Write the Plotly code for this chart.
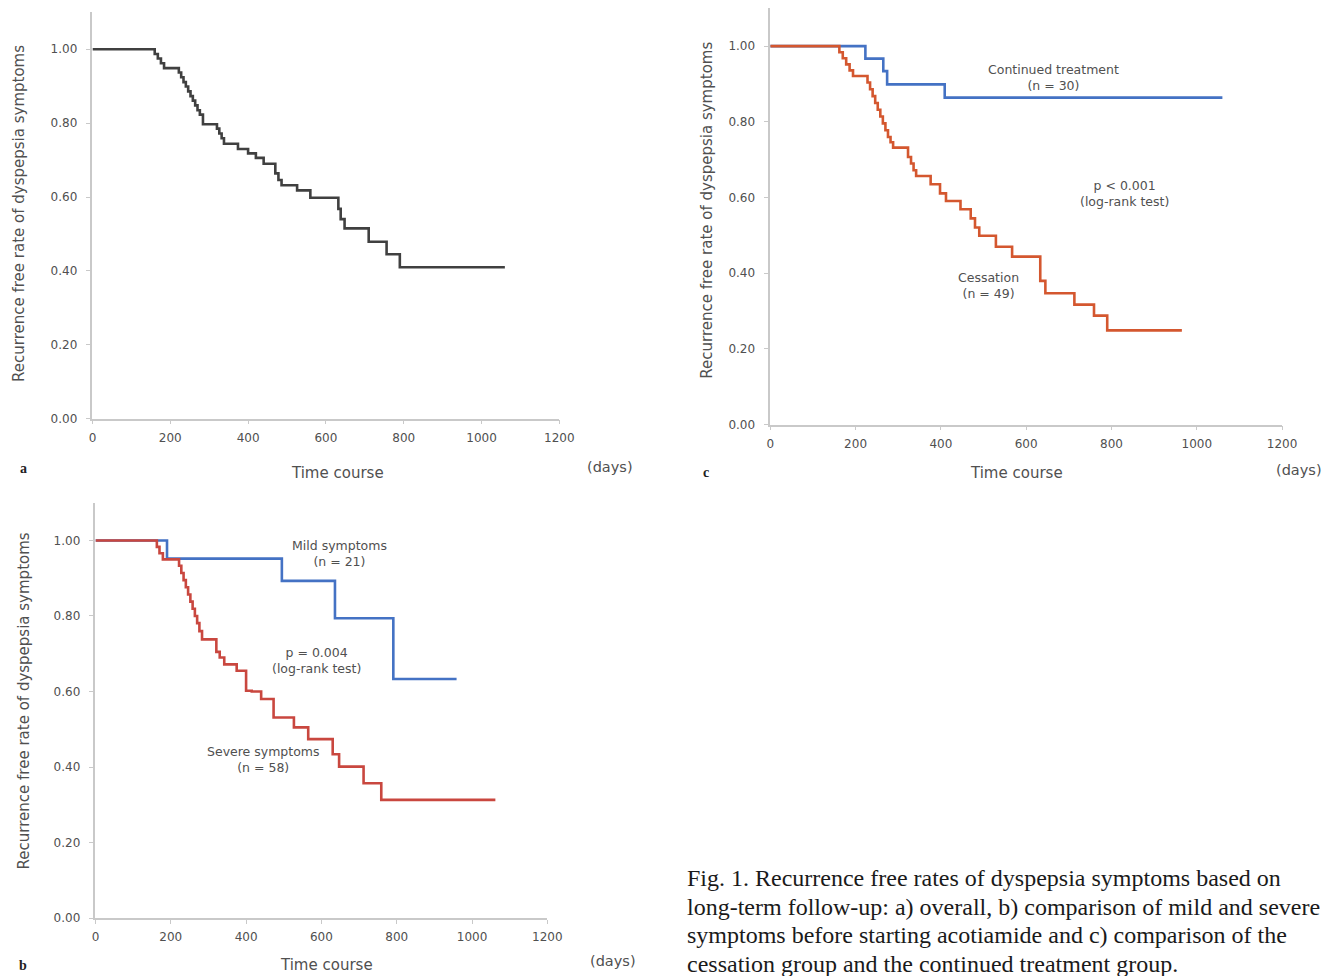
import plotly.graph_objects as go

# ---------------- data ----------------
# Panel a: overall
days_a = [0, 160, 168, 176, 184, 222, 228, 234, 240, 246, 252, 258, 264, 270, 276, 284,
          320, 326, 332, 338, 374, 400, 420, 440, 470, 478, 486, 526, 560, 632, 638, 648,
          710, 756, 790, 1060]
surv_a = [1.000, 0.987, 0.975, 0.962, 0.949, 0.937, 0.924, 0.911, 0.899, 0.886, 0.873, 0.861,
          0.848, 0.835, 0.823, 0.797, 0.785, 0.772, 0.759, 0.744, 0.730, 0.718, 0.706, 0.690,
          0.664, 0.646, 0.632, 0.618, 0.598, 0.568, 0.540, 0.515, 0.479, 0.445, 0.410, 0.410]

# Panel b: mild vs severe symptoms
days_mild = [0, 190, 495, 636, 791, 959]
surv_mild = [1.000, 0.952, 0.893, 0.794, 0.633, 0.633]

days_severe = [0, 163, 170, 179, 222, 228, 234, 240, 246, 252, 258, 264, 270, 276, 283,
               321, 330, 342, 375, 400, 415, 440, 473, 527, 565, 630, 647, 712, 759, 1062]
surv_severe = [1.000, 0.983, 0.966, 0.950, 0.933, 0.914, 0.895, 0.876, 0.857, 0.838, 0.819,
               0.800, 0.781, 0.760, 0.738, 0.705, 0.690, 0.672, 0.655, 0.602, 0.600, 0.580,
               0.531, 0.505, 0.474, 0.434, 0.401, 0.357, 0.313, 0.313]

# Panel c: cessation vs continued treatment
days_cont = [0, 223, 265, 274, 409, 1060]
surv_cont = [1.000, 0.967, 0.934, 0.899, 0.864, 0.864]

days_cess = [0, 162, 170, 178, 186, 194, 228, 234, 240, 246, 252, 258, 264, 270, 276, 282, 288,
             323, 330, 336, 342, 376, 398, 412, 446, 470, 480, 490, 529, 567, 633, 645,
             713, 759, 790, 965]
surv_cess = [1.000, 0.984, 0.968, 0.952, 0.936, 0.921, 0.904, 0.886, 0.868, 0.850, 0.832,
             0.814, 0.796, 0.778, 0.760, 0.746, 0.732, 0.707, 0.690, 0.672, 0.657, 0.635,
             0.611, 0.591, 0.569, 0.545, 0.521, 0.499, 0.470, 0.444, 0.380, 0.347, 0.317,
             0.288, 0.249, 0.249]

x_ticks = [0, 200, 400, 600, 800, 1000, 1200]
y_ticks = [0.0, 0.2, 0.4, 0.6, 0.8, 1.0]
y_title = "Recurrence free rate of dyspepsia symptoms"
x_title = "Time course"

caption_lines = [
    "Fig. 1. Recurrence free rates of dyspepsia symptoms based on",
    "long-term follow-up: a) overall, b) comparison of mild and severe",
    "symptoms before starting acotiamide and c) comparison of the",
    "cessation group and the continued treatment group.",
]

# ---------------- figure ----------------
W, H = 1328, 976
GREY = "#404040"
BLUE = "#4472C4"
RED_B = "#C9473F"
RED_C = "#D4572F"
AXC = "#c9c9c9"
TXT = "#505050"
FONT = "DejaVu Sans"

fig = go.Figure()

fig.add_trace(go.Scatter(x=days_a, y=surv_a, mode="lines", line=dict(color=GREY, width=2.6, shape="hv"),
                         xaxis="x", yaxis="y", showlegend=False))
fig.add_trace(go.Scatter(x=days_mild, y=surv_mild, mode="lines", line=dict(color=BLUE, width=2.6, shape="hv"),
                         xaxis="x2", yaxis="y2", showlegend=False))
fig.add_trace(go.Scatter(x=days_severe, y=surv_severe, mode="lines", line=dict(color=RED_B, width=2.6, shape="hv"),
                         xaxis="x2", yaxis="y2", showlegend=False))
fig.add_trace(go.Scatter(x=days_cont, y=surv_cont, mode="lines", line=dict(color=BLUE, width=2.6, shape="hv"),
                         xaxis="x3", yaxis="y3", showlegend=False))
fig.add_trace(go.Scatter(x=days_cess, y=surv_cess, mode="lines", line=dict(color=RED_C, width=2.6, shape="hv"),
                         xaxis="x3", yaxis="y3", showlegend=False))

# small empirical correction for the rendering scale seen in the screenshot
SX, OX = 0.986, 2.5
SY, OY = 0.992, -0.3


def px_x(p):
    return ((p - OX) / SX) / W


def px_y(p):
    return 1 - ((p - OY) / SY) / H


def xaxis(x0, x1, anchor):
    return dict(domain=[px_x(x0), min(1.0, px_x(x1))], range=[0, 1200], tickvals=x_ticks,
                showline=True, linecolor=AXC, linewidth=1.5, showgrid=False, zeroline=False,
                ticks="outside", ticklen=4, tickcolor=AXC, anchor=anchor, ticklabelstandoff=3,
                tickfont=dict(family=FONT, size=12, color=TXT))


def yaxis(y0, y1, anchor):
    return dict(domain=[max(0.0, px_y(y1)), min(1.0, px_y(y0))], range=[0, 1.1], tickvals=y_ticks,
                tickformat=".2f",
                showline=True, linecolor=AXC, linewidth=1.5, showgrid=False, zeroline=False,
                ticks="outside", ticklen=5, tickcolor=AXC, anchor=anchor, ticklabelstandoff=6,
                tickfont=dict(family=FONT, size=12, color=TXT))


fig.update_layout(
    width=W, height=H, margin=dict(l=0, r=0, t=0, b=0),
    paper_bgcolor="white", plot_bgcolor="white",
    xaxis=xaxis(91, 558, "y"), yaxis=yaxis(12, 418, "x"),
    xaxis2=xaxis(94, 546, "y2"), yaxis2=yaxis(502, 917, "x2"),
    xaxis3=xaxis(769, 1281, "y3"), yaxis3=yaxis(8, 424, "x3"),
)

anns = []


def note(x, y, text, size=12, color=TXT, family=FONT, xanchor="center", yanchor="middle", angle=0, align="center"):
    anns.append(dict(xref="paper", yref="paper", x=px_x(x), y=px_y(y), text=text, showarrow=False,
                     font=dict(family=family, size=size, color=color), xanchor=xanchor, yanchor=yanchor,
                     textangle=angle, align=align))


# axis titles and labels
note(18, 213, y_title, size=15, angle=-90)
note(336, 472, x_title, size=15)
note(609, 466, "(days)", size=14.5)
note(22, 468, "<b>a</b>", size=14, color="#222222", family="Liberation Serif")

note(22, 700, y_title, size=15, angle=-90)
note(325, 964, x_title, size=15)
note(612, 960, "(days)", size=14.5)
note(22, 964, "<b>b</b>", size=14, color="#222222", family="Liberation Serif")

note(706, 210, y_title, size=15, angle=-90)
note(1015, 472, x_title, size=15)
note(1298, 469, "(days)", size=14.5)
note(705, 472, "<b>c</b>", size=14, color="#222222", family="Liberation Serif")

# in-plot labels
note(338, 553, "Mild symptoms<br>(n = 21)", size=12.5)
note(315, 660, "p = 0.004<br>(log-rank test)", size=12.5)
note(262, 759, "Severe symptoms<br>(n = 58)", size=12.5)

note(1052, 77, "Continued treatment<br>(n = 30)", size=12.5)
note(1123, 193, "p < 0.001<br>(log-rank test)", size=12.5)
note(987, 285, "Cessation<br>(n = 49)", size=12.5)

# caption, one annotation per line
for i, line in enumerate(caption_lines):
    note(684, 877 + 28.5 * i, line, size=24, color="#1a1a1a", family="Liberation Serif",
         xanchor="left", yanchor="middle", align="left")

fig.update_layout(annotations=anns)

fig.write_html(
    "out.html",
    config={"displayModeBar": False},
    post_script="document.body.style.margin='0';document.body.style.overflow='hidden';"
                "document.documentElement.style.overflow='hidden';",
)
